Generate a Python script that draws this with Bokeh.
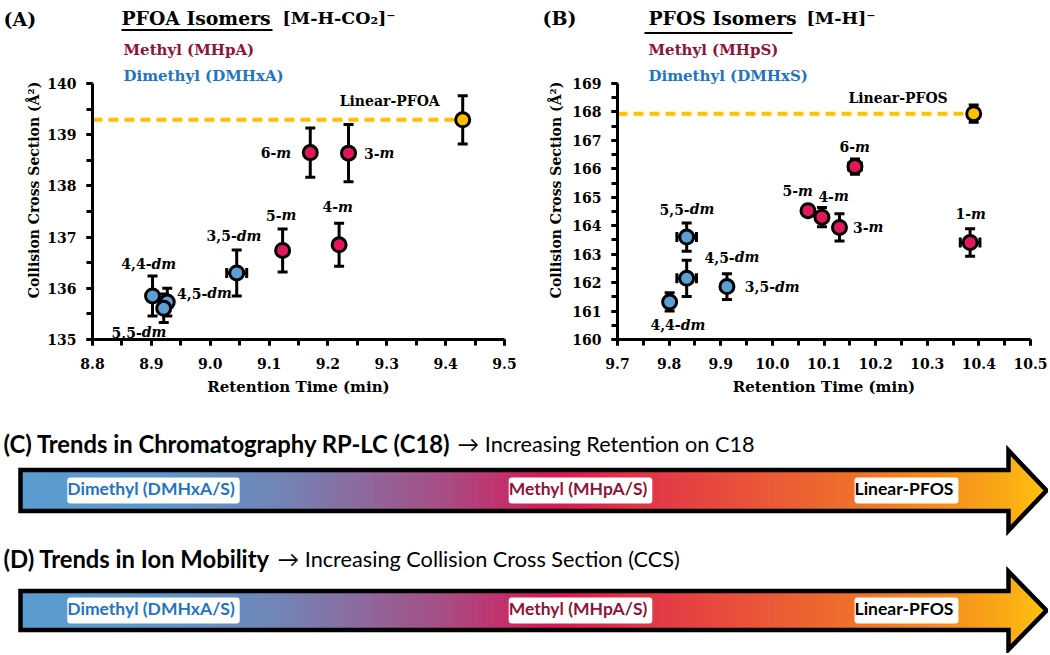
import numpy as np
from bokeh.plotting import figure
from bokeh.models import (ColumnDataSource, Whisker, TeeHead, Label, Range1d,
                          SingleIntervalTicker, NumeralTickFormatter)
from bokeh.layouts import column, row
from bokeh.embed import file_html
from bokeh.resources import INLINE
from bokeh.core.properties import value

SERIF = "DejaVu Serif"
SANS = "Lato"

# ---------------- Panel A : PFOA isomers ----------------
A_xrange = [8.8, 9.5]
A_yrange = [135, 140]
A_dm_name = ["4,4-dm", "4,5-dm", "5,5-dm", "3,5-dm"]
A_dm_rt = [8.902, 8.927, 8.921, 9.045]
A_dm_ccs = [135.85, 135.73, 135.61, 136.30]
A_dm_ccs_err = [0.39, 0.27, 0.28, 0.45]
A_dm_rt_err = [0.0, 0.008, 0.0, 0.017]
A_m_name = ["5-m", "4-m", "6-m", "3-m"]
A_m_rt = [9.123, 9.219, 9.170, 9.235]
A_m_ccs = [136.74, 136.85, 138.65, 138.64]
A_m_ccs_err = [0.42, 0.42, 0.48, 0.56]
A_m_rt_err = [0.0, 0.0, 0.0, 0.0]
A_lin_name = "Linear-PFOA"
A_lin_rt = 9.429
A_lin_ccs = 139.29
A_lin_err = 0.47

# ---------------- Panel B : PFOS isomers ----------------
B_xrange = [9.7, 10.5]
B_yrange = [160, 169]
B_dm_name = ["4,4-dm", "5,5-dm", "4,5-dm", "3,5-dm"]
B_dm_rt = [9.801, 9.834, 9.834, 9.912]
B_dm_ccs = [161.32, 163.60, 162.15, 161.86]
B_dm_ccs_err = [0.32, 0.50, 0.64, 0.45]
B_dm_rt_err = [0.0, 0.019, 0.019, 0.0]
B_m_name = ["5-m", "4-m", "3-m", "6-m", "1-m"]
B_m_rt = [10.069, 10.096, 10.130, 10.160, 10.383]
B_m_ccs = [164.53, 164.30, 163.94, 166.08, 163.41]
B_m_ccs_err = [0.10, 0.34, 0.48, 0.27, 0.48]
B_m_rt_err = [0.0, 0.0, 0.0, 0.012, 0.019]
B_lin_name = "Linear-PFOS"
B_lin_rt = 10.39
B_lin_ccs = 167.94
B_lin_err = 0.30

# label placement (pixel offsets of the upright/italic split point)
A_dm_lab_dx = [-1, 40, -22, 0]
A_dm_lab_dy = [-32, -9, 24, -37]
A_m_lab_dx = [-1, -1, -34, 31]
A_m_lab_dy = [-35, -38, 0, 0]
A_lin_lab = (-23, -19)
B_dm_lab_dx = [11, 3, 48, 48]
B_dm_lab_dy = [23, -28, -21, 0]
B_m_lab_dx = [-10, 12, 29, 0, 1]
B_m_lab_dy = [-20, -21, 0, -20, -29]
B_lin_lab = (-26, -16)

# colours
C_METHYL = "#E2185B"
C_DIMETHYL = "#5CA0D3"
C_LINEAR = "#FFC000"
T_METHYL = "#8E1538"
T_DIMETHYL = "#1F74C4"

# bottom arrow gradient stops
GRAD_POS = [0.00, 0.14, 0.26, 0.33, 0.42, 0.50, 0.53, 0.60, 0.70, 0.80, 0.90, 0.96, 1.00]
GRAD_COL = ["#5a9bd0", "#5d98cc", "#7482b3", "#8c6a9e", "#aa4a82", "#d0205e", "#da1b55",
            "#e2334a", "#e8503b", "#ee6d2c", "#f48f1f", "#f9aa15", "#ffc20e"]

TOTAL_W = 1048
HEAD_H = 40
ROW_H = 368
BOT_H = 245


def blank_fig(w, h, x0, y0):
    p = figure(width=w, height=h, x_range=Range1d(x0, x0 + w), y_range=Range1d(y0 + h, y0),
               toolbar_location=None, output_backend="svg", min_border=0,
               x_axis_type=None, y_axis_type=None)
    p.outline_line_color = None
    p.grid.visible = False
    p.background_fill_color = "white"
    p.border_fill_color = "white"
    return p


# ---------- header strip ----------
pH = blank_fig(TOTAL_W, HEAD_H, 0, 0)
H_text = ["(A)", "PFOA Isomers", "[M-H-CO₂]⁻", "(B)", "PFOS Isomers", "[M-H]⁻"]
H_x = [3, 121, 282, 542, 648, 806]
H_y = [18, 17, 17, 17, 17, 17]
H_size = ["19px", "18.8px", "17.5px", "19px", "18.8px", "17.5px"]
pH.text(x=H_x, y=H_y, text=H_text, text_font=value(SERIF), text_font_style="bold",
        text_font_size=H_size, text_color="black", text_baseline="middle", text_align="left")
pH.segment(x0=[121, 644], y0=[29.5, 32.5], x1=[272, 792], y1=[29.5, 32.5],
           line_color="black", line_width=2)


def make_panel(ox, w, fl, fr, ax_top, fb, xr, yr, dm, m, lin, sub, ylab_standoff):
    ft = HEAD_H  # frame top (page px)
    ytop = yr[1] + (ax_top - ft) * (yr[1] - yr[0]) / (fb - ax_top)
    p = figure(width=w, height=ROW_H, x_range=Range1d(*xr), y_range=Range1d(yr[0], ytop),
               toolbar_location=None, output_backend="svg",
               min_border_left=fl - ox, min_border_right=ox + w - fr,
               min_border_top=0, min_border_bottom=HEAD_H + ROW_H - fb)
    p.outline_line_color = None
    p.grid.visible = False
    p.background_fill_color = "white"
    p.border_fill_color = "white"

    def pg(px, py):
        return (xr[0] + (px - fl) / (fr - fl) * (xr[1] - xr[0]),
                ytop - (py - ft) / (fb - ft) * (ytop - yr[0]))

    p.xaxis.ticker = SingleIntervalTicker(interval=0.1, num_minor_ticks=2)
    p.yaxis.ticker = SingleIntervalTicker(interval=1, num_minor_ticks=2)
    p.xaxis.formatter = NumeralTickFormatter(format="0.0")
    p.yaxis.formatter = NumeralTickFormatter(format="0")
    p.yaxis.bounds = (yr[0], yr[1])
    for ax in (p.xaxis[0], p.yaxis[0]):
        ax.axis_line_width = 3
        ax.axis_line_color = "black"
        ax.major_tick_line_width = 3
        ax.minor_tick_line_width = 3
        ax.major_tick_line_color = "black"
        ax.minor_tick_line_color = "black"
        ax.major_tick_out = 6
        ax.major_tick_in = 0
        ax.minor_tick_out = 6
        ax.minor_tick_in = 0
        ax.major_label_text_font = SERIF
        ax.major_label_text_font_style = "bold"
        ax.major_label_text_font_size = "14px"
        ax.major_label_text_color = "black"
        ax.axis_label_text_font = SERIF
        ax.axis_label_text_font_style = "bold"
        ax.axis_label_text_color = "black"
    p.xaxis.major_label_standoff = 12
    p.yaxis.major_label_standoff = 10
    p.xaxis.axis_label = "Retention Time (min)"
    p.xaxis.axis_label_text_font_size = "15px"
    p.xaxis.axis_label_standoff = 6
    p.yaxis.axis_label = "Collision Cross Section (Å²)"
    p.yaxis.axis_label_text_font_size = "14px"
    p.yaxis.axis_label_standoff = ylab_standoff

    lin_name, lin_rt, lin_ccs, lin_err, lin_lab = lin
    p.line(x=[xr[0], lin_rt], y=[lin_ccs, lin_ccs], line_color=C_LINEAR,
           line_width=4, line_dash="10 6")

    groups = [(dm, C_DIMETHYL),
              (m, C_METHYL),
              (([lin_name], [lin_rt], [lin_ccs], [lin_err], [0.0], None, None), C_LINEAR)]
    for (names, rt, ccs, cerr, rerr, ldx, ldy), col in groups:
        rt = np.array(rt, dtype=float)
        ccs = np.array(ccs, dtype=float)
        cerr = np.array(cerr, dtype=float)
        rerr = np.array(rerr, dtype=float)
        vs = ColumnDataSource(dict(base=rt, upper=ccs + cerr, lower=ccs - cerr))
        p.add_layout(Whisker(base="base", upper="upper", lower="lower", source=vs,
                             dimension="height", line_width=3, line_color="black",
                             upper_head=TeeHead(size=10, line_width=3, line_color="black"),
                             lower_head=TeeHead(size=10, line_width=3, line_color="black"),
                             level="underlay"))
        sel = rerr > 0
        if sel.any():
            hs = ColumnDataSource(dict(base=ccs[sel], upper=rt[sel] + rerr[sel],
                                       lower=rt[sel] - rerr[sel]))
            p.add_layout(Whisker(base="base", upper="upper", lower="lower", source=hs,
                                 dimension="width", line_width=3, line_color="black",
                                 upper_head=TeeHead(size=10, line_width=3, line_color="black"),
                                 lower_head=TeeHead(size=10, line_width=3, line_color="black"),
                                 level="underlay"))
        p.scatter(x=rt, y=ccs, size=14, fill_color=col, line_color="black", line_width=3)
        if ldx is not None:
            pre = [n[: n.rfind("-") + 1] for n in names]
            suf = [n[n.rfind("-") + 1:] for n in names]
            ls = ColumnDataSource(dict(x=rt, y=ccs, pre=pre, suf=suf, dx=ldx, dy=ldy))
            p.text(x="x", y="y", text="pre", source=ls, x_offset="dx", y_offset="dy",
                   text_font=value(SERIF), text_font_style="bold", text_font_size="14px",
                   text_align="right", text_baseline="middle", text_color="black")
            p.text(x="x", y="y", text="suf", source=ls, x_offset="dx", y_offset="dy",
                   text_font=value(SERIF), text_font_style="bold italic", text_font_size="14px",
                   text_align="left", text_baseline="middle", text_color="black")
    ls = ColumnDataSource(dict(x=[lin_rt], y=[lin_ccs], t=[lin_name]))
    p.text(x="x", y="y", text="t", source=ls, x_offset=lin_lab[0], y_offset=lin_lab[1],
           text_font=value(SERIF), text_font_style="bold", text_font_size="14px",
           text_align="right", text_baseline="middle", text_color="black")

    # sub-headers (methyl / dimethyl keys)
    for txt, px, py, col in sub:
        x, y = pg(px, py)
        p.text(x=[x], y=[y], text=[txt], text_font=value(SERIF), text_font_style="bold",
               text_font_size="15px", text_color=col, text_align="left",
               text_baseline="middle")
    return p


pA = make_panel(0, 520, 92, 504, 83, 339, A_xrange, A_yrange,
                (A_dm_name, A_dm_rt, A_dm_ccs, A_dm_ccs_err, A_dm_rt_err, A_dm_lab_dx, A_dm_lab_dy),
                (A_m_name, A_m_rt, A_m_ccs, A_m_ccs_err, A_m_rt_err, A_m_lab_dx, A_m_lab_dy),
                (A_lin_name, A_lin_rt, A_lin_ccs, A_lin_err, A_lin_lab),
                [("Methyl (MHpA)", 123, 49, T_METHYL), ("Dimethyl (DMHxA)", 123, 75, T_DIMETHYL)],
                2)
pB = make_panel(520, TOTAL_W - 520, 617, 1030, 83, 339, B_xrange, B_yrange,
                (B_dm_name, B_dm_rt, B_dm_ccs, B_dm_ccs_err, B_dm_rt_err, B_dm_lab_dx, B_dm_lab_dy),
                (B_m_name, B_m_rt, B_m_ccs, B_m_ccs_err, B_m_rt_err, B_m_lab_dx, B_m_lab_dy),
                (B_lin_name, B_lin_rt, B_lin_ccs, B_lin_err, B_lin_lab),
                [("Methyl (MHpS)", 648, 49, T_METHYL), ("Dimethyl (DMHxS)", 648, 75, T_DIMETHYL)],
                5)

# ---------- Panels C & D : trend arrows ----------
pC = blank_fig(TOTAL_W, BOT_H, 0, HEAD_H + ROW_H)


def hex2rgb(h):
    return np.array([int(h[i:i + 2], 16) for i in (1, 3, 5)], dtype=float)


GRAD_RGB = [hex2rgb(c) for c in GRAD_COL]


def grad_color(t):
    t = min(max(t, 0.0), 1.0)
    for i in range(len(GRAD_POS) - 1):
        if t <= GRAD_POS[i + 1]:
            f = (t - GRAD_POS[i]) / (GRAD_POS[i + 1] - GRAD_POS[i])
            c = GRAD_RGB[i] * (1 - f) + GRAD_RGB[i + 1] * f
            return "#%02x%02x%02x" % tuple(int(round(v)) for v in c)
    return GRAD_COL[-1]


def add_arrow(p, x0, xb, xt, yc, bh, hh):
    xs, ys, cs = [], [], []
    e1 = np.linspace(x0, xb, 200)
    for a, b in zip(e1[:-1], e1[1:]):
        xs.append([a, b + 0.7, b + 0.7, a])
        ys.append([yc - bh, yc - bh, yc + bh, yc + bh])
        cs.append(grad_color(((a + b) / 2 - x0) / (xt - x0)))
    e2 = np.linspace(xb, xt, 30)
    for a, b in zip(e2[:-1], e2[1:]):
        ha = hh * (xt - a) / (xt - xb)
        hb = hh * (xt - b) / (xt - xb)
        xs.append([a, b + 0.7, b + 0.7, a])
        ys.append([yc - ha, yc - hb, yc + hb, yc + ha])
        cs.append(grad_color(((a + b) / 2 - x0) / (xt - x0)))
    p.patches(xs=xs, ys=ys, fill_color=cs, line_color=None)
    p.patch(x=[x0, xb, xb, xt, xb, xb, x0, x0],
            y=[yc - bh, yc - bh, yc - hh, yc, yc + hh, yc + bh, yc + bh, yc - bh],
            fill_alpha=0, line_color="black", line_width=4.5, line_join="miter")


def add_trend(p, bold_txt, reg_txt, reg_x, ty, ay):
    p.add_layout(Label(x=3, y=ty, text=bold_txt, text_font=SANS, text_font_style="bold",
                       text_font_size="23.8px", text_color="black", text_baseline="middle"))
    p.add_layout(Label(x=reg_x, y=ty, text=reg_txt, text_font=SANS, text_font_style="normal",
                       text_font_size="21.7px", text_color="black", text_baseline="middle"))
    for txt, cx, col in (("Dimethyl (DMHxA/S)", 153, T_DIMETHYL),
                         ("Methyl (MHpA/S)", 580, T_METHYL),
                         ("Linear-PFOS", 906, "black")):
        p.add_layout(Label(x=cx, y=ay, text=txt, text_font=SANS, text_font_style="bold",
                           text_font_size="17.5px", text_color=col, text_align="center",
                           text_baseline="middle", background_fill_color="white",
                           padding=(0, 5, 0, 5), border_radius=3))


add_arrow(pC, 20, 1008, 1046, 490, 20.5, 40)
add_trend(pC, "(C) Trends in Chromatography RP-LC (C18)", "→ Increasing Retention on C18", 457, 443, 490)
add_arrow(pC, 20, 1008, 1046, 610, 19.5, 39)
add_trend(pC, "(D) Trends in Ion Mobility", "→ Increasing Collision Cross Section (CCS)", 277, 558, 610)

layout = column(pH, row(pA, pB), pC)
open("out.html", "w").write(file_html(layout, INLINE))
